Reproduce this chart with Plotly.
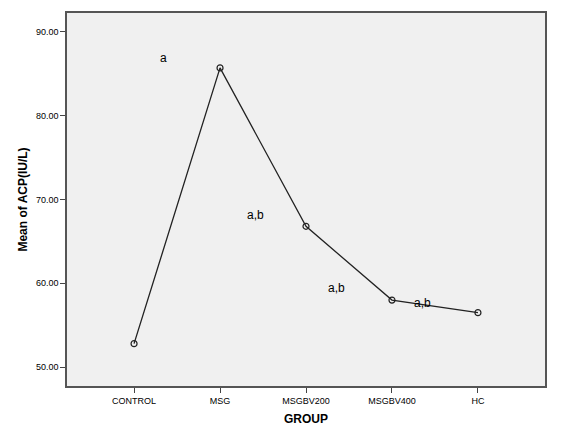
import plotly.graph_objects as go

groups = ['CONTROL', 'MSG', 'MSGBV200', 'MSGBV400', 'HC']
mean_acp = [52.8, 85.7, 66.8, 58.0, 56.5]

# significance letters placed near the line
sig_labels = ['a', 'a,b', 'a,b', 'a,b']
sig_x = [0.34, 1.41, 2.36, 3.35]
sig_y = [86.9, 68.2, 59.5, 57.6]

fig = go.Figure()
fig.add_trace(go.Scatter(
    x=list(range(len(groups))), y=mean_acp, mode='lines+markers',
    line=dict(color='#222222', width=1.3),
    marker=dict(symbol='circle-open', size=6, color='#222222', line=dict(width=1.2)),
    showlegend=False,
))

for txt, xx, yy in zip(sig_labels, sig_x, sig_y):
    fig.add_annotation(x=xx, y=yy, text=txt, showarrow=False,
                       font=dict(family='Liberation Sans, Arial', size=12, color='black'))

# page body has an 8px margin, so the figure is a bit smaller than the window
fig.update_layout(
    width=569, height=427,
    margin=dict(l=59, r=32, t=3, b=49),
    paper_bgcolor='white', plot_bgcolor='#f0f0f0',
    font=dict(family='Liberation Sans, Arial', color='black'),
    xaxis=dict(
        tickmode='array', tickvals=list(range(len(groups))), ticktext=groups,
        range=[-0.78, 4.78], showgrid=False, zeroline=False,
        ticks='outside', ticklen=5, tickcolor='#444444', tickfont=dict(size=9),
        showline=True, linecolor='#555555', linewidth=1.5, mirror=True,
        title=dict(text='<b>GROUP</b>', font=dict(size=12), standoff=10),
    ),
    yaxis=dict(
        range=[47.75, 92.25], tick0=50, dtick=10, tickformat='.2f',
        showgrid=False, zeroline=False,
        ticks='outside', ticklen=5, tickcolor='#444444', tickfont=dict(size=9),
        showline=True, linecolor='#555555', linewidth=1.5, mirror=True,
        title=dict(text='<b>Mean of ACP(IU/L)</b>', font=dict(size=12), standoff=6),
    ),
)

fig.write_html("out.html")
